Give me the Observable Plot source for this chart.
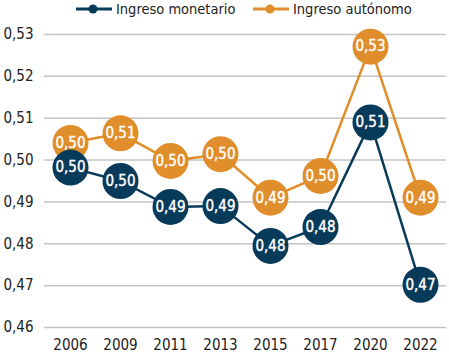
<!DOCTYPE html>
<html><head><meta charset="utf-8">
<script src="https://cdn.jsdelivr.net/npm/d3@7"></script>
<script src="https://cdn.jsdelivr.net/npm/@observablehq/plot@0.6"></script>
<style>
body{margin:0;background:#fff;font-family:"DejaVu Sans Condensed","Liberation Sans Narrow",sans-serif;}
#legend{position:relative;height:20px;width:449px;font-size:14.5px;color:#222;}
.item{position:absolute;top:0;display:flex;align-items:center;height:18px;}
</style></head>
<body>
<div id="legend"></div>
<div id="chart"></div>
<script>
const years = ["2006","2009","2011","2013","2015","2017","2020","2022"];
const monetario = [0.4982,0.4950,0.4888,0.4890,0.4795,0.4840,0.5090,0.4702];
const autonomo  = [0.5041,0.5064,0.4998,0.5014,0.4910,0.4962,0.5271,0.4910];
const monetarioLabels = ["0,50","0,50","0,49","0,49","0,48","0,48","0,51","0,47"];
const autonomoLabels  = ["0,50","0,51","0,50","0,50","0,49","0,50","0,53","0,49"];
const yTicks = [0.46,0.47,0.48,0.49,0.50,0.51,0.52,0.53];
const seriesNames = ["Ingreso monetario","Ingreso autónomo"];
const colors = ["#083a59","#e08e2b"];

const mon = years.map((y,i)=>({year:y,value:monetario[i],label:monetarioLabels[i]}));
const aut = years.map((y,i)=>({year:y,value:autonomo[i],label:autonomoLabels[i]}));

const leg = document.getElementById("legend");
const legPos = [76,253];
seriesNames.forEach((n,i)=>{
  const d = document.createElement("div");
  d.className="item"; d.style.left=legPos[i]+"px";
  d.innerHTML = `<svg width="38" height="18"><line x1="0" x2="36" y1="9" y2="9" stroke="${colors[i]}" stroke-width="3"/><circle cx="17" cy="9" r="4.5" fill="${colors[i]}"/></svg><span style="margin-left:2px">${n}</span>`;
  leg.appendChild(d);
});

const fmt = d => d.toFixed(2).replace(".", ",");
const font = "'DejaVu Sans Condensed','Liberation Sans Narrow',sans-serif";
const plot = Plot.plot({
  width:449, height:334,
  marginLeft:44, marginRight:3, marginTop:14, marginBottom:27,
  style:{fontFamily:font, fontSize:"15px", color:"#222", background:"#fff"},
  x:{type:"point", domain:years, padding:0.5, label:null},
  y:{domain:[0.46,0.53], label:null},
  marks:[
    Plot.gridY(yTicks,{stroke:"#c4c4c4", strokeOpacity:1, strokeWidth:1.5}),
    Plot.axisY(yTicks,{tickSize:0, tickPadding:0, textAnchor:"start", dx:-41, tickFormat:fmt, fontSize:15, fill:"#222"}),
    Plot.axisX({tickSize:0, tickPadding:12, fontSize:15, fill:"#222"}),
    Plot.line(aut,{x:"year",y:"value",stroke:colors[1],strokeWidth:2.5}),
    Plot.dot(aut,{x:"year",y:"value",r:18,fill:colors[1]}),
    Plot.text(aut,{x:"year",y:"value",text:"label",fill:"white",fontSize:15,stroke:"white",strokeWidth:0.4}),
    Plot.line(mon,{x:"year",y:"value",stroke:colors[0],strokeWidth:2.5}),
    Plot.dot(mon,{x:"year",y:"value",r:18,fill:colors[0]}),
    Plot.text(mon,{x:"year",y:"value",text:"label",fill:"white",fontSize:15,stroke:"white",strokeWidth:0.4})
  ]
});
document.getElementById("chart").appendChild(plot);
</script>
</body></html>
